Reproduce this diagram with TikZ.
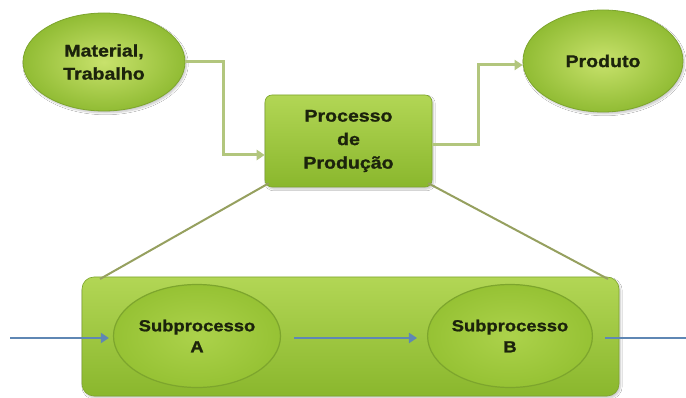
\documentclass[tikz,border=0pt]{standalone}
\usepackage{fontspec}
\newfontfamily\lbl[FakeStretch=1.15, BoldFeatures={FakeBold=1.2}]{Liberation Sans}
\usetikzlibrary{shapes.geometric,arrows.meta,calc,shadows.blur}
\definecolor{gLight}{RGB}{200,226,108}
\definecolor{gMid}{RGB}{158,200,60}
\definecolor{gDark}{RGB}{145,188,52}
\definecolor{gEdge}{RGB}{125,165,45}
\definecolor{boxTop}{RGB}{178,214,85}
\definecolor{boxBot}{RGB}{138,183,45}
\definecolor{subIn}{RGB}{172,210,75}
\definecolor{subOut}{RGB}{150,194,52}
\definecolor{conn}{RGB}{178,198,125}
\definecolor{zoomline}{RGB}{150,160,95}
\definecolor{blueA}{RGB}{95,135,180}
\definecolor{txt}{RGB}{28,35,12}
\tikzset{
  shd/.style={blur shadow={shadow blur steps=6, shadow xshift=1.5pt, shadow yshift=-2pt, shadow opacity=22}},
  ell/.style={ellipse, inner sep=0pt, shading=radial, inner color=gLight, outer color=gDark,
    draw=gEdge, line width=0.8pt, font=\lbl\bfseries\fontsize{17}{23}\selectfont, text=txt, align=center, shd},
  subell/.style={ellipse, inner sep=0pt, shading=radial, inner color=subIn, outer color=subOut,
    draw=gEdge, line width=1.2pt, font=\lbl\bfseries\fontsize{16}{21}\selectfont, text=txt, align=center},
  procbox/.style={rectangle, rounded corners=7pt, inner sep=0pt, top color=boxTop, bottom color=boxBot,
    draw=gEdge, line width=0.6pt, font=\lbl\bfseries\fontsize{17}{23.5}\selectfont, text=txt, align=center, shd},
  bigbox/.style={rectangle, rounded corners=12pt, inner sep=0pt, top color=boxTop, bottom color=boxBot,
    draw=gEdge, line width=0.6pt, shd},
  gconn/.style={draw=conn, line width=3pt, -{Triangle[length=8pt,width=10pt]}},
  zline/.style={draw=zoomline, line width=2pt},
  bconn/.style={draw=blueA, line width=2.6pt, -{Triangle[length=8pt,width=10pt]}},
}
\begin{document}
\begin{tikzpicture}[x=1pt,y=-1pt]
\useasboundingbox[fill=white] (0,0) rectangle (686,398);
\coordinate (zl1) at (100,279);
\coordinate (zl2) at (608,279);
\node[bigbox, minimum width=537, minimum height=119] (big) at (350.5,336.5) {};
\node[procbox, minimum width=167, minimum height=92] (proc) at (348.5,141) {Processo\\de\\Produção};
\draw[zline] ($(proc.south west)+(4,-4)$) -- (zl1);
\draw[zline] ($(proc.south east)+(-4,-4)$) -- (zl2);
\node[ell, minimum width=162, minimum height=98] (mat) at (104,62) {Material,\\Trabalho};
\node[ell, minimum width=160, minimum height=102] (prod) at (603,61) {Produto};
\node[subell, minimum width=167, minimum height=103] (subA) at (197,336) {Subprocesso\\A};
\node[subell, minimum width=161, minimum height=103] (subB) at (510,336) {Subprocesso\\B};
% green connectors
\coordinate (k1) at (223,155);
\coordinate (k2) at (478,145);
\draw[gconn] (mat.east) -| (k1) -- (k1 -| proc.west);
\draw[gconn] (k2 -| proc.east) -- (k2) |- ($(prod.west)+(0,4)$);
% blue arrows
\coordinate (bin) at (10,338);
\coordinate (bout) at (686,338);
\draw[bconn, shorten >=4pt] (bin) -- (bin -| subA.west);
\draw[bconn, shorten <=13pt, shorten >=10pt] (subA.east |- bin) -- (subB.west |- bin);
\draw[draw=blueA, line width=2.6pt, shorten <=12pt] (subB.east |- bin) -- (bout);
\end{tikzpicture}
\end{document}
